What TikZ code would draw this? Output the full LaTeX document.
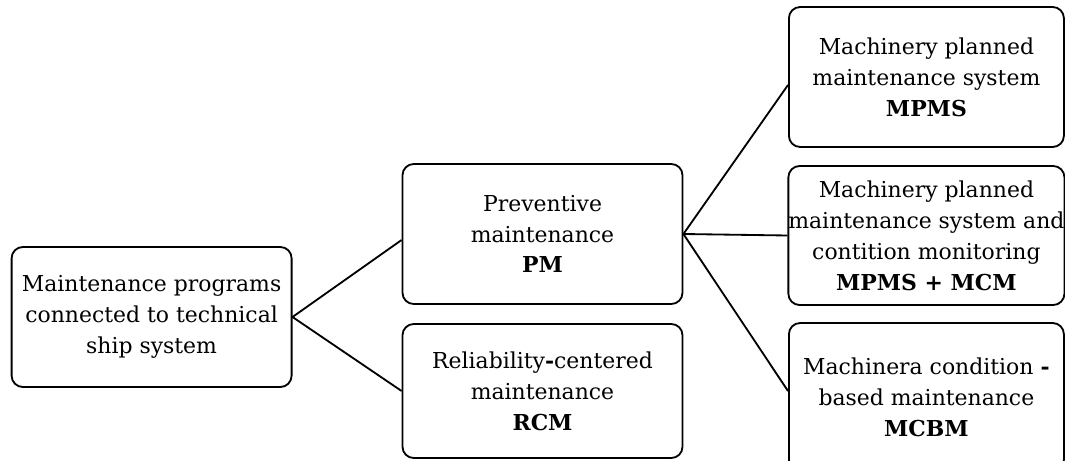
\documentclass[tikz,border=0pt]{standalone}
\usepackage{fontspec}
\setmainfont{DejaVu Serif}
\usetikzlibrary{positioning}

\begin{document}
\begin{tikzpicture}[
    box/.style={draw, line width=1.3pt, rounded corners=8pt, align=center,
        inner sep=0pt, minimum width=7.0cm, minimum height=3.5cm,
        font=\fontsize{15.6}{22}\selectfont}
    ]
    \useasboundingbox (0,0) rectangle (26.625,-11.525);

    \node[box] (Programs) at (3.79,-7.925) {Maintenance programs\\connected to technical\\ship system};

    \node[box] (PM) at (13.5625,-5.85) {Preventive\\maintenance\\\textbf{PM}};
    \node[box, minimum height=3.35cm] (RCM) at (13.5625,-9.775) {Reliability\textbf{-}centered\\maintenance\\\textbf{RCM}};

    \node[box, minimum width=6.875cm] (MPMS) at (23.16,-1.925) {Machinery planned\\maintenance system\\\textbf{MPMS}};
    \node[box, minimum width=6.875cm, minimum height=3.475cm] (MPMSMCM) at (23.16,-5.8875) {Machinery planned\\maintenance system and\\contition monitoring\\\textbf{MPMS + MCM}};
    \node[box, minimum width=6.875cm, minimum height=3.7cm] (MCBM) at (23.16,-9.925) {Machinera condition \textbf{-}\\based maintenance\\\textbf{MCBM}};

    \draw [line width=1.3pt] ([yshift=-0.15cm]PM.west) -- (Programs.east) -- (RCM.west);

    \draw [line width=1.3pt] (PM.east) -- ([yshift=-0.2cm]MPMS.west);
    \draw [line width=1.3pt] (PM.east) -- (MPMSMCM.west);
    \draw [line width=1.3pt] (PM.east) -- ([yshift=0.15cm]MCBM.west);

\end{tikzpicture}
\end{document}
